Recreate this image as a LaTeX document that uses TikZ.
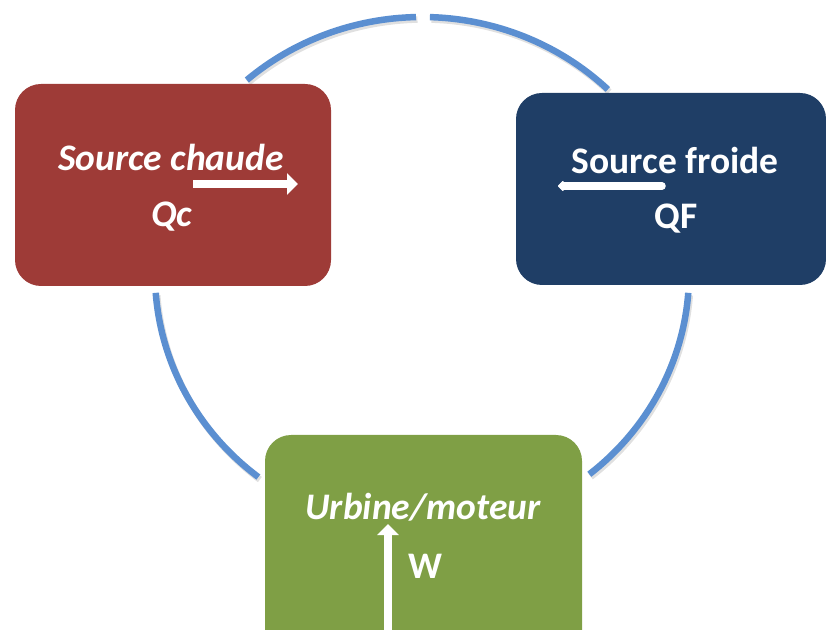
\documentclass[tikz,border=0pt]{standalone}
\usepackage{fontspec}
\setmainfont{Carlito}
\usetikzlibrary{arrows.meta,calc}
\definecolor{hotred}{HTML}{9E3B37}
\definecolor{coldblue}{HTML}{1F3E66}
\definecolor{workgreen}{HTML}{7F9F45}
\definecolor{ringblue}{HTML}{5B8FD1}
\tikzset{
  box/.style={rounded corners=26pt, line width=0pt},
  ring/.style={ringblue, line width=6.5pt},
  ringshadow/.style={black!35, opacity=0.35, line width=6.5pt},
  lbl/.style={text=white, font=\bfseries\fontsize{37.5}{40}\selectfont, inner sep=0pt, anchor=center},
  lblit/.style={lbl, font=\bfseries\itshape\fontsize{37.5}{40}\selectfont},
  flow/.style={white, line width=7.5pt, -{Triangle[length=11pt,width=21pt]}},
  flowsmall/.style={white, line width=7.5pt, line cap=round, -{Triangle[length=6pt,width=12pt,round]}}
}
\begin{document}
\begin{tikzpicture}[x=1pt,y=1pt]
\useasboundingbox (0,0) rectangle (826,629);
\coordinate (c) at (422,355);
% cycle ring in four elliptic pieces, with a soft shadow
\foreach \a/\b in {131/91.3, 88.3/45.9, 184.2/232.2, -4.2/-51.2}{
  \draw[ringshadow] ($(c)+({267*cos(\a)},{257*sin(\a)})+(1.5,-2.5)$)
    arc[start angle=\a, end angle=\b, x radius=267, y radius=257];
  \draw[ring] ($(c)+({267*cos(\a)},{257*sin(\a)})$)
    arc[start angle=\a, end angle=\b, x radius=267, y radius=257];
}
% the three blocks
\fill[box, hotred] (15,343) rectangle (331,545);
\fill[box, coldblue] (516,344) rectangle (826,536);
\fill[box, workgreen] (265,-40) rectangle (582,194);
% labels
\node[lblit] (hot) at (171,472) {Source chaude};
\node[lblit] (qc) at (172,412) {Qc};
\node[lbl] (cold) at (675,469) {Source froide};
\node[lbl] (qf) at (676,410) {QF};
\node[lblit] (eng) at (423,122) {Urbine/moteur};
\node[lbl] (w) at (425,63) {W};
% energy flows
\coordinate (qcs) at (193,445); \coordinate (qce) at (298,445);
\coordinate (qfs) at (662,443); \coordinate (qfe) at (558,443);
\coordinate (ws) at (388,-5); \coordinate (we) at (388,105);
\draw[flow] (qcs) -- (qce);
\draw[flowsmall] (qfs) -- (qfe);
\draw[flow] (ws) -- (we);
\end{tikzpicture}
\end{document}
